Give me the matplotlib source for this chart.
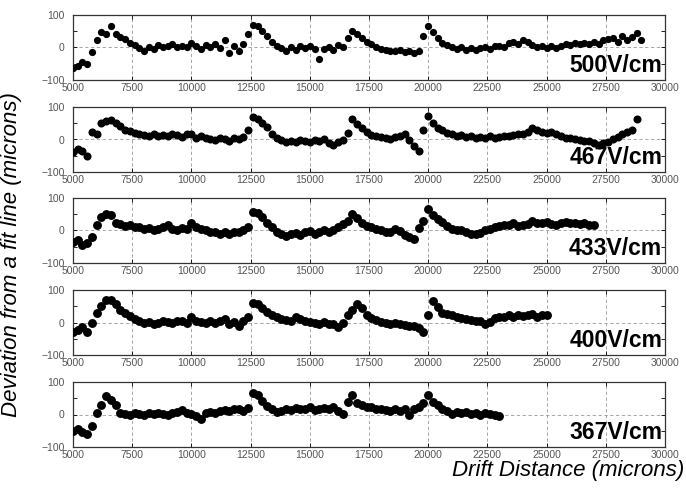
"""Drift distance residuals for five drift fields, stacked panels"""

import matplotlib
import matplotlib.pyplot as plt
import numpy as np

matplotlib.use("agg")
plt.rcParams["font.family"] = ["Liberation Sans", "DejaVu Sans"]

# sample spacing along the drift direction (microns)
x_start = 5000
x_step = 200

fields = ["500V/cm", "467V/cm", "433V/cm", "400V/cm", "367V/cm"]

dev_500 = [
    -62, -58, -45, -52, -15, 22, 48, 40, 66, 42, 32, 25, 15, 8, -2, -10, 2, -5, 8, 0,
    5, 12, 2, 6, 0, 14, 4, -4, 8, 2, 10, -3, 22, -18, 5, -10, 12, 40, 70, 66,
    52, 35, 18, 5, -3, -12, 2, -8, 6, -2, 5, -6, -35, -4, 2, -8, 8, 2, 30, 52,
    42, 28, 18, 10, 2, -5, -8, -10, -12, -8, -15, -12, -18, -10, 35, 66, 48, 28, 15, 8,
    0, -5, 2, -8, -2, -8, -3, 2, -5, 4, 6, 2, 14, 18, 12, 24, 18, 8, 2, 5,
    -2, 4, -3, 6, 10, 8, 14, 10, 15, 12, 18, 12, 22, 26, 30, 18, 36, 24, 32, 46,
    22,
]
dev_467 = [
    -40, -30, -35, -52, 22, 16, 50, 58, 60, 50, 40, 30, 25, 20, 18, 14, 12, 16, 10, 14,
    12, 18, 14, 8, 16, 18, 6, 10, 4, 0, -2, 4, 2, -4, 6, 2, 8, 30, 68, 64,
    52, 38, 18, 5, -3, -7, -4, -8, -3, -6, -8, -2, -6, 2, -10, -18, -8, -2, 20, 64,
    48, 34, 22, 14, 10, 8, 4, 2, 8, 12, 18, -2, -20, -35, 28, 72, 52, 36, 28, 20,
    16, 12, 14, 8, 10, 6, 8, 4, 10, 6, 8, 12, 10, 14, 18, 16, 24, 36, 30, 22,
    20, 24, 18, 12, 6, 4, 0, -2, -6, -4, -10, -16, -12, -8, 2, 8, 16, 22, 30, 62,
]
dev_433 = [
    -36, -30, -45, -40, -20, 18, 42, 52, 48, 22, 20, 15, 18, 10, 12, 5, 8, 0, 4, 10,
    16, 6, 2, 8, 4, 24, 10, 4, 0, -4, -6, -10, -4, -12, -6, -4, 0, 10, 56, 54,
    40, 22, 12, -5, -10, -16, -12, -8, -14, -5, -2, -10, -4, 2, -6, 2, 12, 20, 30, 50,
    38, 22, 14, 12, 4, 0, -4, -6, 6, -2, -14, -20, -26, 8, 30, 66, 48, 36, 26, 14,
    6, 2, 0, -4, -10, -12, -8, 0, 6, 10, 14, 18, 16, 22, 14, 16, 20, 28, 22, 24,
    26, 20, 18, 24, 26, 22, 24, 20, 22, 18, 18,
]
dev_400 = [
    -30, -22, -14, -30, -2, 28, 52, 70, 68, 56, 40, 30, 20, 12, 4, -2, 2, -4, 0, 4,
    2, -2, 4, 6, 0, 18, 4, 2, -2, 6, 0, 4, 10, -4, 2, -12, 4, 16, 60, 56,
    44, 32, 22, 18, 12, 8, 6, 18, 10, 4, 2, -2, -4, 2, -6, -4, -14, 0, 22, 40,
    56, 44, 24, 14, 8, 2, 0, -4, -2, -6, -8, -10, -12, -16, -30, 24, 66, 48, 30, 26,
    22, 18, 14, 12, 8, 6, 4, -4, 2, 14, 18, 16, 22, 18, 24, 20, 22, 26, 18, 24,
    22,
]
dev_367 = [
    -52, -45, -55, -60, -35, 4, 30, 56, 46, 28, 4, 2, 0, 4, 2, 0, 4, 2, 6, 2,
    0, 4, 8, 14, 6, 2, -4, -14, 4, 8, 6, 10, 14, 12, 16, 18, 10, 20, 66, 60,
    42, 26, 16, 8, 12, 18, 14, 20, 16, 18, 22, 14, 18, 20, 16, 24, 10, 2, 40, 60,
    36, 30, 24, 22, 18, 18, 14, 12, 16, 10, 18, 0, 16, 24, 34, 60, 40, 28, 18, 12,
    2, 8, 4, 8, 2, 6, 0, 4, 2, 0, -4,
]
deviations = [dev_500, dev_467, dev_433, dev_400, dev_367]

x_ticks = [5000, 7500, 10000, 12500, 15000, 17500, 20000, 22500, 25000, 27500, 30000]
y_ticks = [-100, 0, 100]

fig = plt.figure(figsize=(6.86, 4.9), dpi=100)

W, H = 686.0, 490.0
left_px, right_px = 73, 665
panel_tops = [15, 107, 198, 290, 382]  # px from top of the figure
panel_h = 65
marker_sizes = [5.2, 5.8, 6.4, 6.4, 6.4]

for top, field, dev, ms in zip(panel_tops, fields, deviations, marker_sizes):
    ax = fig.add_axes(
        [left_px / W, 1 - (top + panel_h) / H, (right_px - left_px) / W, panel_h / H]
    )
    dev = np.array(dev)
    x = x_start + x_step * np.arange(len(dev))
    ax.plot(x, dev, "o", color="black", ms=ms, mew=0, zorder=3)

    ax.set_xlim(5000, 30000)
    ax.set_ylim(-100, 100)
    ax.set_xticks(x_ticks)
    ax.set_yticks(y_ticks)
    ax.set_yticks([-50, 50], minor=True)
    ax.set_yticklabels(["\u2212100", "0", "100"])
    ax.tick_params(
        which="both", direction="in", top=True, right=True,
        labelsize=7.5, labelcolor="#555555", length=3, width=0.6, pad=2,
    )
    ax.tick_params(axis="y", pad=6)
    for v in x_ticks[1:-1]:
        ax.axvline(v, color="#999999", lw=0.6, ls=(0, (4, 3)), zorder=1)
    ax.axhline(0, color="#999999", lw=0.6, ls=(0, (4, 3)), zorder=1)
    for s in ax.spines.values():
        s.set_linewidth(0.9)
        s.set_color("#333333")

    ax.text(0.995, 0.04, field, transform=ax.transAxes, ha="right", va="bottom",
            fontsize=16.5, fontweight="bold", color="black", zorder=5)

fig.text(12 / W, 1 - 255 / H, "Deviation from a fit line (microns)", rotation=90,
         ha="center", va="center", fontsize=16, style="italic")
fig.text(684 / W, 1 - 470 / H, "Drift Distance (microns)", ha="right", va="center",
         fontsize=16, style="italic")

fig.savefig("out.png", dpi=100)
